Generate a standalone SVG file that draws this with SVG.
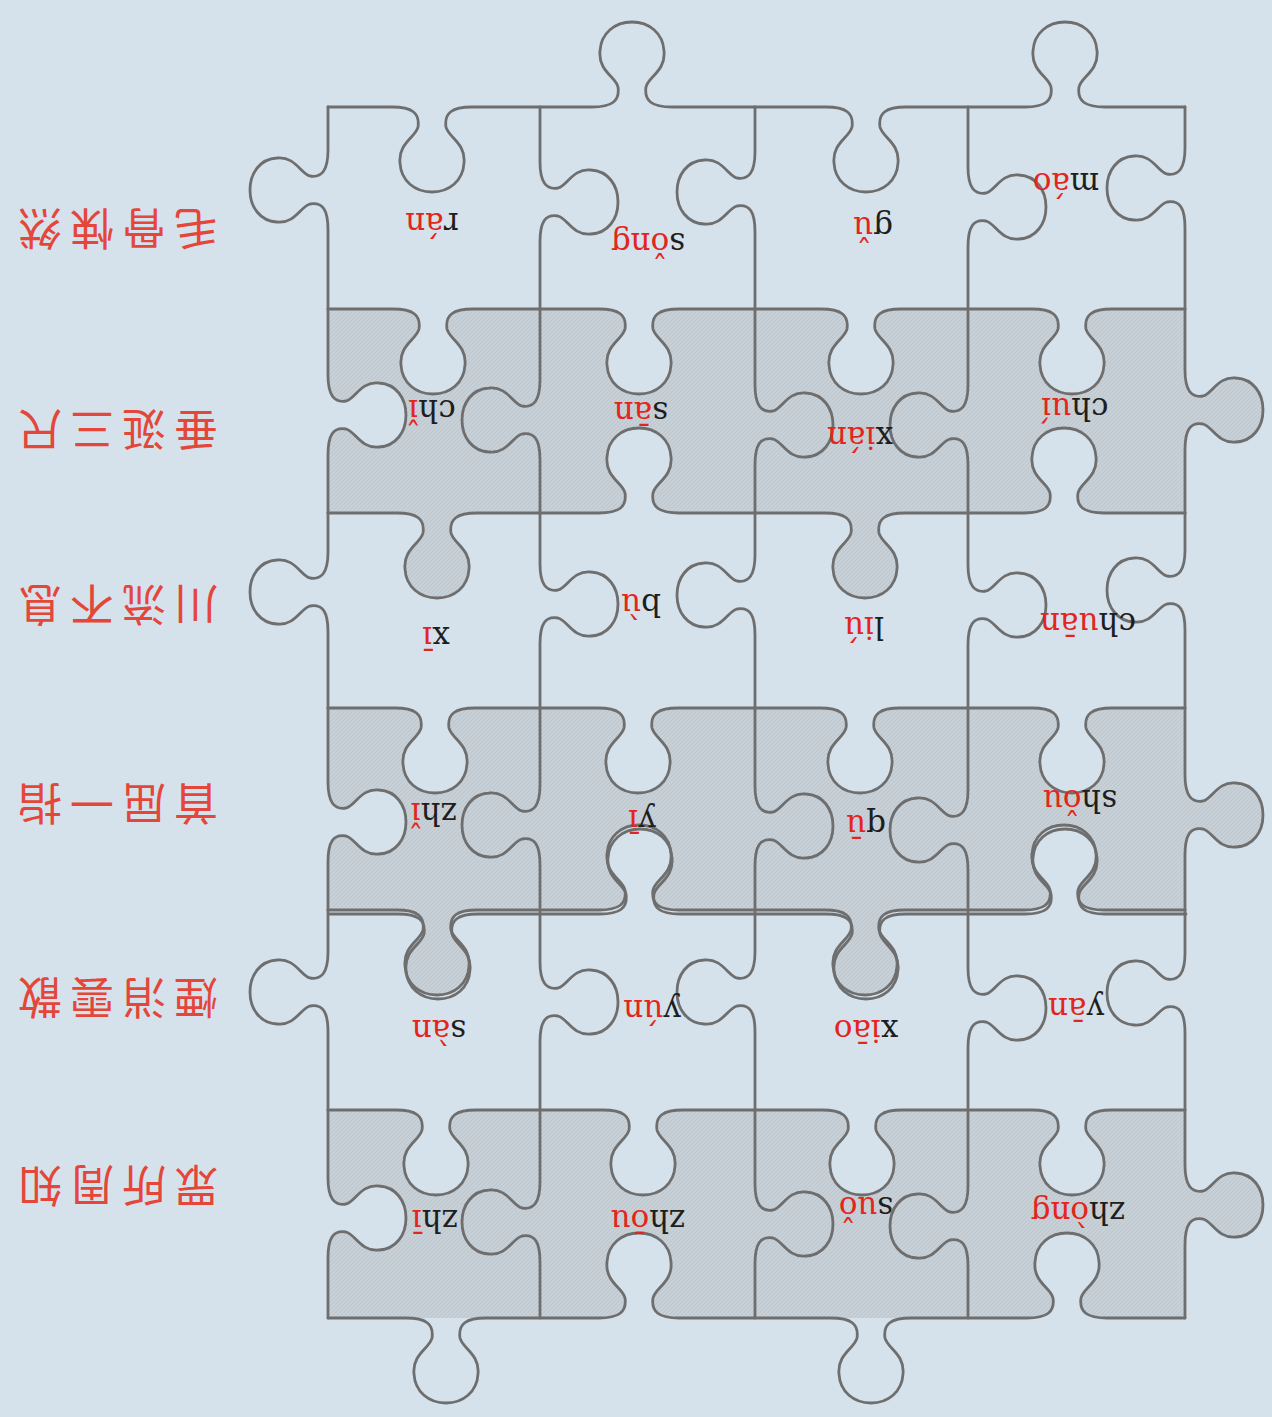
<svg xmlns="http://www.w3.org/2000/svg" width="1272" height="1417" viewBox="0 0 1272 1417">
<defs>
<pattern id="hatch" width="4" height="4" patternUnits="userSpaceOnUse">
<rect width="4" height="4" fill="#c9d2d9"/>
<path d="M0,4 L4,0 M-1,1 L1,-1 M3,5 L5,3" stroke="#b6bfc7" stroke-width="0.7"/>
<path d="M0,0 L4,4" stroke="#bec7ce" stroke-width="0.5"/>
</pattern>
<clipPath id="grid"><rect x="0" y="0" width="1272" height="1318"/></clipPath>
<style>
.edge{fill:none;stroke:#6e6e6e;stroke-width:2.8;stroke-linejoin:round;stroke-linecap:round}
.py{font-family:"DejaVu Serif","Liberation Serif",serif;font-size:31px;text-anchor:middle}
.k{fill:#1e1e1e}
.r{fill:#e3261c}
.cn{font-family:"Noto Sans CJK SC","Noto Sans CJK TC",sans-serif;font-size:44px;fill:#e4463a;text-anchor:middle}
</style>
</defs>
<rect width="1272" height="1417" fill="#d5e2ec"/>

<g id="shading" fill="url(#hatch)" clip-path="url(#grid)">
<path d="M328,309 L393,309 c20,0 28,6 26,20 c-2,10 -20,16 -18,36 c1,18 15,29 32,29 c17,0 31,-11 32,-29 c2,-20 -16,-26 -18,-36 c-2,-14 6,-20 26,-20 L599,309 c20,0 28,6 26,20 c-2,10 -20,16 -18,36 c1,18 15,29 32,29 c17,0 31,-11 32,-29 c2,-20 -16,-26 -18,-36 c-2,-14 6,-20 26,-20 L821,309 c20,0 28,6 26,20 c-2,10 -20,16 -18,36 c1,18 15,29 32,29 c17,0 31,-11 32,-29 c2,-20 -16,-26 -18,-36 c-2,-14 6,-20 26,-20 L1032,309 c20,0 28,6 26,20 c-2,10 -20,16 -18,36 c1,18 15,29 32,29 c17,0 31,-11 32,-29 c2,-20 -16,-26 -18,-36 c-2,-14 6,-20 26,-20 L1185,309 L1185,370 c0,20 6,28 18,26 c9,-2 15,-20 33,-18 c17,1 27,15 27,32 c0,17 -10,31 -27,32 c-18,2 -24,-16 -33,-18 c-13,-2 -18,6 -18,26 L1185,513 L1104,513 c-20,0 -28,-6 -26,-20 c2,-10 20,-16 18,-36 c-1,-18 -15,-29 -32,-29 c-17,0 -31,11 -32,29 c-2,20 16,26 18,36 c2,14 -6,20 -26,20 L905,513 c-20,0 -28,6 -26,20 c2,10 20,16 18,36 c-1,18 -15,29 -32,29 c-17,0 -31,-11 -32,-29 c-2,-20 16,-26 18,-36 c2,-14 -6,-20 -26,-20 L679,513 c-20,0 -28,-6 -26,-20 c2,-10 20,-16 18,-36 c-1,-18 -15,-29 -32,-29 c-17,0 -31,11 -32,29 c-2,20 16,26 18,36 c2,14 -6,20 -26,20 L477,513 c-20,0 -28,6 -26,20 c2,10 20,16 18,36 c-1,18 -15,29 -32,29 c-17,0 -31,-11 -32,-29 c-2,-20 16,-26 18,-36 c2,-14 -6,-20 -26,-20 L328,513 L328,455 c0,-20 6,-28 18,-26 c9,2 15,20 33,18 c17,-1 27,-15 27,-32 c0,-17 -10,-31 -27,-32 c-18,-2 -24,16 -33,18 c-13,2 -18,-6 -18,-26 L328,309 Z"/>
<path d="M328,708 L395,708 c20,0 28,6 26,20 c-2,10 -20,16 -18,36 c1,18 15,29 32,29 c17,0 31,-11 32,-29 c2,-20 -16,-26 -18,-36 c-2,-14 6,-20 26,-20 L598,708 c20,0 28,6 26,20 c-2,10 -20,16 -18,36 c1,18 15,29 32,29 c17,0 31,-11 32,-29 c2,-20 -16,-26 -18,-36 c-2,-14 6,-20 26,-20 L820,708 c20,0 28,6 26,20 c-2,10 -20,16 -18,36 c1,18 15,29 32,29 c17,0 31,-11 32,-29 c2,-20 -16,-26 -18,-36 c-2,-14 6,-20 26,-20 L1032,708 c20,0 28,6 26,20 c-2,10 -20,16 -18,36 c1,18 15,29 32,29 c17,0 31,-11 32,-29 c2,-20 -16,-26 -18,-36 c-2,-14 6,-20 26,-20 L1185,708 L1185,775 c0,20 6,28 18,26 c9,-2 15,-20 33,-18 c17,1 27,15 27,32 c0,17 -10,31 -27,32 c-18,2 -24,-16 -33,-18 c-13,-2 -18,6 -18,26 L1185,910 L1104,910 c-20,0 -28,-6 -26,-20 c2,-10 20,-16 18,-36 c-1,-18 -15,-29 -32,-29 c-17,0 -31,11 -32,29 c-2,20 16,26 18,36 c2,14 -6,20 -26,20 L905,910 c-20,0 -28,6 -26,20 c2,10 20,16 18,36 c-1,18 -15,29 -32,29 c-17,0 -31,-11 -32,-29 c-2,-20 16,-26 18,-36 c2,-14 -6,-20 -26,-20 L679,910 c-20,0 -28,-6 -26,-20 c2,-10 20,-16 18,-36 c-1,-18 -15,-29 -32,-29 c-17,0 -31,11 -32,29 c-2,20 16,26 18,36 c2,14 -6,20 -26,20 L477,910 c-20,0 -28,6 -26,20 c2,10 20,16 18,36 c-1,18 -15,29 -32,29 c-17,0 -31,-11 -32,-29 c-2,-20 16,-26 18,-36 c2,-14 -6,-20 -26,-20 L328,910 L328,862 c0,-20 6,-28 18,-26 c9,2 15,20 33,18 c17,-1 27,-15 27,-32 c0,-17 -10,-31 -27,-32 c-18,-2 -24,16 -33,18 c-13,2 -18,-6 -18,-26 L328,708 Z"/>
<path d="M328,1110 L396,1110 c20,0 28,6 26,20 c-2,10 -20,16 -18,36 c1,18 15,29 32,29 c17,0 31,-11 32,-29 c2,-20 -16,-26 -18,-36 c-2,-14 6,-20 26,-20 L603,1110 c20,0 28,6 26,20 c-2,10 -20,16 -18,36 c1,18 15,29 32,29 c17,0 31,-11 32,-29 c2,-20 -16,-26 -18,-36 c-2,-14 6,-20 26,-20 L822,1110 c20,0 28,6 26,20 c-2,10 -20,16 -18,36 c1,18 15,29 32,29 c17,0 31,-11 32,-29 c2,-20 -16,-26 -18,-36 c-2,-14 6,-20 26,-20 L1032,1110 c20,0 28,6 26,20 c-2,10 -20,16 -18,36 c1,18 15,29 32,29 c17,0 31,-11 32,-29 c2,-20 -16,-26 -18,-36 c-2,-14 6,-20 26,-20 L1185,1110 L1185,1165 c0,20 6,28 18,26 c9,-2 15,-20 33,-18 c17,1 27,15 27,32 c0,17 -10,31 -27,32 c-18,2 -24,-16 -33,-18 c-13,-2 -18,6 -18,26 L1185,1318 L1107,1318 c-20,0 -28,-6 -26,-20 c2,-10 20,-16 18,-36 c-1,-18 -15,-29 -32,-29 c-17,0 -31,11 -32,29 c-2,20 16,26 18,36 c2,14 -6,20 -26,20 L911,1318 c-20,0 -28,6 -26,20 c2,10 20,16 18,36 c-1,18 -15,29 -32,29 c-17,0 -31,-11 -32,-29 c-2,-20 16,-26 18,-36 c2,-14 -6,-20 -26,-20 L679,1318 c-20,0 -28,-6 -26,-20 c2,-10 20,-16 18,-36 c-1,-18 -15,-29 -32,-29 c-17,0 -31,11 -32,29 c-2,20 16,26 18,36 c2,14 -6,20 -26,20 L486,1318 c-20,0 -28,6 -26,20 c2,10 20,16 18,36 c-1,18 -15,29 -32,29 c-17,0 -31,-11 -32,-29 c-2,-20 16,-26 18,-36 c2,-14 -6,-20 -26,-20 L328,1318 L328,1258 c0,-20 6,-28 18,-26 c9,2 15,20 33,18 c17,-1 27,-15 27,-32 c0,-17 -10,-31 -27,-32 c-18,-2 -24,16 -33,18 c-13,2 -18,-6 -18,-26 L328,1110 Z"/>
</g>

<g id="connectors" class="edge">
<path d="M328,107 L392,107 c20,0 28,6 26,20 c-2,10 -20,16 -18,36 c1,18 15,29 32,29 c17,0 31,-11 32,-29 c2,-20 -16,-26 -18,-36 c-2,-14 6,-20 26,-20 L592,107 c20,0 28,-6 26,-20 c-2,-10 -20,-16 -18,-36 c1,-18 15,-29 32,-29 c17,0 31,11 32,29 c2,20 -16,26 -18,36 c-2,14 6,20 26,20 L826,107 c20,0 28,6 26,20 c-2,10 -20,16 -18,36 c1,18 15,29 32,29 c17,0 31,-11 32,-29 c2,-20 -16,-26 -18,-36 c-2,-14 6,-20 26,-20 L1025,107 c20,0 28,-6 26,-20 c-2,-10 -20,-16 -18,-36 c1,-18 15,-29 32,-29 c17,0 31,11 32,29 c2,20 -16,26 -18,36 c-2,14 6,20 26,20 L1185,107"/>
<path d="M328,309 L393,309 c20,0 28,6 26,20 c-2,10 -20,16 -18,36 c1,18 15,29 32,29 c17,0 31,-11 32,-29 c2,-20 -16,-26 -18,-36 c-2,-14 6,-20 26,-20 L599,309 c20,0 28,6 26,20 c-2,10 -20,16 -18,36 c1,18 15,29 32,29 c17,0 31,-11 32,-29 c2,-20 -16,-26 -18,-36 c-2,-14 6,-20 26,-20 L821,309 c20,0 28,6 26,20 c-2,10 -20,16 -18,36 c1,18 15,29 32,29 c17,0 31,-11 32,-29 c2,-20 -16,-26 -18,-36 c-2,-14 6,-20 26,-20 L1032,309 c20,0 28,6 26,20 c-2,10 -20,16 -18,36 c1,18 15,29 32,29 c17,0 31,-11 32,-29 c2,-20 -16,-26 -18,-36 c-2,-14 6,-20 26,-20 L1185,309"/>
<path d="M328,513 L397,513 c20,0 28,6 26,20 c-2,10 -20,16 -18,36 c1,18 15,29 32,29 c17,0 31,-11 32,-29 c2,-20 -16,-26 -18,-36 c-2,-14 6,-20 26,-20 L599,513 c20,0 28,-6 26,-20 c-2,-10 -20,-16 -18,-36 c1,-18 15,-29 32,-29 c17,0 31,11 32,29 c2,20 -16,26 -18,36 c-2,14 6,20 26,20 L825,513 c20,0 28,6 26,20 c-2,10 -20,16 -18,36 c1,18 15,29 32,29 c17,0 31,-11 32,-29 c2,-20 -16,-26 -18,-36 c-2,-14 6,-20 26,-20 L1024,513 c20,0 28,-6 26,-20 c-2,-10 -20,-16 -18,-36 c1,-18 15,-29 32,-29 c17,0 31,11 32,29 c2,20 -16,26 -18,36 c-2,14 6,20 26,20 L1185,513"/>
<path d="M328,708 L395,708 c20,0 28,6 26,20 c-2,10 -20,16 -18,36 c1,18 15,29 32,29 c17,0 31,-11 32,-29 c2,-20 -16,-26 -18,-36 c-2,-14 6,-20 26,-20 L598,708 c20,0 28,6 26,20 c-2,10 -20,16 -18,36 c1,18 15,29 32,29 c17,0 31,-11 32,-29 c2,-20 -16,-26 -18,-36 c-2,-14 6,-20 26,-20 L820,708 c20,0 28,6 26,20 c-2,10 -20,16 -18,36 c1,18 15,29 32,29 c17,0 31,-11 32,-29 c2,-20 -16,-26 -18,-36 c-2,-14 6,-20 26,-20 L1032,708 c20,0 28,6 26,20 c-2,10 -20,16 -18,36 c1,18 15,29 32,29 c17,0 31,-11 32,-29 c2,-20 -16,-26 -18,-36 c-2,-14 6,-20 26,-20 L1185,708"/>
<path id="y4" d="M328,910 L397,910 c20,0 28,6 26,20 c-2,10 -20,16 -18,36 c1,18 15,29 32,29 c17,0 31,-11 32,-29 c2,-20 -16,-26 -18,-36 c-2,-14 6,-20 26,-20 L599,910 c20,0 28,-6 26,-20 c-2,-10 -20,-16 -18,-36 c1,-18 15,-29 32,-29 c17,0 31,11 32,29 c2,20 -16,26 -18,36 c-2,14 6,20 26,20 L825,910 c20,0 28,6 26,20 c-2,10 -20,16 -18,36 c1,18 15,29 32,29 c17,0 31,-11 32,-29 c2,-20 -16,-26 -18,-36 c-2,-14 6,-20 26,-20 L1024,910 c20,0 28,-6 26,-20 c-2,-10 -20,-16 -18,-36 c1,-18 15,-29 32,-29 c17,0 31,11 32,29 c2,20 -16,26 -18,36 c-2,14 6,20 26,20 L1185,910"/>
<use href="#y4" transform="translate(1,4)"/>
<path d="M328,1110 L396,1110 c20,0 28,6 26,20 c-2,10 -20,16 -18,36 c1,18 15,29 32,29 c17,0 31,-11 32,-29 c2,-20 -16,-26 -18,-36 c-2,-14 6,-20 26,-20 L603,1110 c20,0 28,6 26,20 c-2,10 -20,16 -18,36 c1,18 15,29 32,29 c17,0 31,-11 32,-29 c2,-20 -16,-26 -18,-36 c-2,-14 6,-20 26,-20 L822,1110 c20,0 28,6 26,20 c-2,10 -20,16 -18,36 c1,18 15,29 32,29 c17,0 31,-11 32,-29 c2,-20 -16,-26 -18,-36 c-2,-14 6,-20 26,-20 L1032,1110 c20,0 28,6 26,20 c-2,10 -20,16 -18,36 c1,18 15,29 32,29 c17,0 31,-11 32,-29 c2,-20 -16,-26 -18,-36 c-2,-14 6,-20 26,-20 L1185,1110"/>
<path d="M328,1318 L406,1318 c20,0 28,6 26,20 c-2,10 -20,16 -18,36 c1,18 15,29 32,29 c17,0 31,-11 32,-29 c2,-20 -16,-26 -18,-36 c-2,-14 6,-20 26,-20 L599,1318 c20,0 28,-6 26,-20 c-2,-10 -20,-16 -18,-36 c1,-18 15,-29 32,-29 c17,0 31,11 32,29 c2,20 -16,26 -18,36 c-2,14 6,20 26,20 L831,1318 c20,0 28,6 26,20 c-2,10 -20,16 -18,36 c1,18 15,29 32,29 c17,0 31,-11 32,-29 c2,-20 -16,-26 -18,-36 c-2,-14 6,-20 26,-20 L1027,1318 c20,0 28,-6 26,-20 c-2,-10 -20,-16 -18,-36 c1,-18 15,-29 32,-29 c17,0 31,11 32,29 c2,20 -16,26 -18,36 c-2,14 6,20 26,20 L1185,1318"/>

<path d="M328,107 L328,150 c0,20 -6,28 -18,26 c-9,-2 -15,-20 -33,-18 c-17,1 -27,15 -27,32 c0,17 10,31 27,32 c18,2 24,-16 33,-18 c13,-2 18,6 18,26 L328,309"/>
<path d="M540,107 L540,162 c0,20 6,28 18,26 c9,-2 15,-20 33,-18 c17,1 27,15 27,32 c0,17 -10,31 -27,32 c-18,2 -24,-16 -33,-18 c-13,-2 -18,6 -18,26 L540,309"/>
<path d="M755,107 L755,152 c0,20 -6,28 -18,26 c-9,-2 -15,-20 -33,-18 c-17,1 -27,15 -27,32 c0,17 10,31 27,32 c18,2 24,-16 33,-18 c13,-2 18,6 18,26 L755,309"/>
<path d="M968,107 L968,167 c0,20 6,28 18,26 c9,-2 15,-20 33,-18 c17,1 27,15 27,32 c0,17 -10,31 -27,32 c-18,2 -24,-16 -33,-18 c-13,-2 -18,6 -18,26 L968,309"/>
<path d="M1185,107 L1185,148 c0,20 -6,28 -18,26 c-9,-2 -15,-20 -33,-18 c-17,1 -27,15 -27,32 c0,17 10,31 27,32 c18,2 24,-16 33,-18 c13,-2 18,6 18,26 L1185,309"/>

<path d="M328,309 L328,375 c0,20 6,28 18,26 c9,-2 15,-20 33,-18 c17,1 27,15 27,32 c0,17 -10,31 -27,32 c-18,2 -24,-16 -33,-18 c-13,-2 -18,6 -18,26 L328,513"/>
<path d="M540,309 L540,380 c0,20 -6,28 -18,26 c-9,-2 -15,-20 -33,-18 c-17,1 -27,15 -27,32 c0,17 10,31 27,32 c18,2 24,-16 33,-18 c13,-2 18,6 18,26 L540,513"/>
<path d="M755,309 L755,385 c0,20 6,28 18,26 c9,-2 15,-20 33,-18 c17,1 27,15 27,32 c0,17 -10,31 -27,32 c-18,2 -24,-16 -33,-18 c-13,-2 -18,6 -18,26 L755,513"/>
<path d="M968,309 L968,385 c0,20 -6,28 -18,26 c-9,-2 -15,-20 -33,-18 c-17,1 -27,15 -27,32 c0,17 10,31 27,32 c18,2 24,-16 33,-18 c13,-2 18,6 18,26 L968,513"/>
<path d="M1185,309 L1185,370 c0,20 6,28 18,26 c9,-2 15,-20 33,-18 c17,1 27,15 27,32 c0,17 -10,31 -27,32 c-18,2 -24,-16 -33,-18 c-13,-2 -18,6 -18,26 L1185,513"/>

<path d="M328,513 L328,552 c0,20 -6,28 -18,26 c-9,-2 -15,-20 -33,-18 c-17,1 -27,15 -27,32 c0,17 10,31 27,32 c18,2 24,-16 33,-18 c13,-2 18,6 18,26 L328,708"/>
<path d="M540,513 L540,564 c0,20 6,28 18,26 c9,-2 15,-20 33,-18 c17,1 27,15 27,32 c0,17 -10,31 -27,32 c-18,2 -24,-16 -33,-18 c-13,-2 -18,6 -18,26 L540,708"/>
<path d="M755,513 L755,555 c0,20 -6,28 -18,26 c-9,-2 -15,-20 -33,-18 c-17,1 -27,15 -27,32 c0,17 10,31 27,32 c18,2 24,-16 33,-18 c13,-2 18,6 18,26 L755,708"/>
<path d="M968,513 L968,565 c0,20 6,28 18,26 c9,-2 15,-20 33,-18 c17,1 27,15 27,32 c0,17 -10,31 -27,32 c-18,2 -24,-16 -33,-18 c-13,-2 -18,6 -18,26 L968,708"/>
<path d="M1185,513 L1185,550 c0,20 -6,28 -18,26 c-9,-2 -15,-20 -33,-18 c-17,1 -27,15 -27,32 c0,17 10,31 27,32 c18,2 24,-16 33,-18 c13,-2 18,6 18,26 L1185,708"/>

<path d="M328,708 L328,782 c0,20 6,28 18,26 c9,-2 15,-20 33,-18 c17,1 27,15 27,32 c0,17 -10,31 -27,32 c-18,2 -24,-16 -33,-18 c-13,-2 -18,6 -18,26 L328,910"/>
<path d="M540,708 L540,785 c0,20 -6,28 -18,26 c-9,-2 -15,-20 -33,-18 c-17,1 -27,15 -27,32 c0,17 10,31 27,32 c18,2 24,-16 33,-18 c13,-2 18,6 18,26 L540,910"/>
<path d="M755,708 L755,786 c0,20 6,28 18,26 c9,-2 15,-20 33,-18 c17,1 27,15 27,32 c0,17 -10,31 -27,32 c-18,2 -24,-16 -33,-18 c-13,-2 -18,6 -18,26 L755,910"/>
<path d="M968,708 L968,790 c0,20 -6,28 -18,26 c-9,-2 -15,-20 -33,-18 c-17,1 -27,15 -27,32 c0,17 10,31 27,32 c18,2 24,-16 33,-18 c13,-2 18,6 18,26 L968,910"/>
<path d="M1185,708 L1185,775 c0,20 6,28 18,26 c9,-2 15,-20 33,-18 c17,1 27,15 27,32 c0,17 -10,31 -27,32 c-18,2 -24,-16 -33,-18 c-13,-2 -18,6 -18,26 L1185,910"/>

<path d="M328,910 L328,952 c0,20 -6,28 -18,26 c-9,-2 -15,-20 -33,-18 c-17,1 -27,15 -27,32 c0,17 10,31 27,32 c18,2 24,-16 33,-18 c13,-2 18,6 18,26 L328,1110"/>
<path d="M540,910 L540,962 c0,20 6,28 18,26 c9,-2 15,-20 33,-18 c17,1 27,15 27,32 c0,17 -10,31 -27,32 c-18,2 -24,-16 -33,-18 c-13,-2 -18,6 -18,26 L540,1110"/>
<path d="M755,910 L755,952 c0,20 -6,28 -18,26 c-9,-2 -15,-20 -33,-18 c-17,1 -27,15 -27,32 c0,17 10,31 27,32 c18,2 24,-16 33,-18 c13,-2 18,6 18,26 L755,1110"/>
<path d="M968,910 L968,968 c0,20 6,28 18,26 c9,-2 15,-20 33,-18 c17,1 27,15 27,32 c0,17 -10,31 -27,32 c-18,2 -24,-16 -33,-18 c-13,-2 -18,6 -18,26 L968,1110"/>
<path d="M1185,910 L1185,953 c0,20 -6,28 -18,26 c-9,-2 -15,-20 -33,-18 c-17,1 -27,15 -27,32 c0,17 10,31 27,32 c18,2 24,-16 33,-18 c13,-2 18,6 18,26 L1185,1110"/>

<path d="M328,1110 L328,1178 c0,20 6,28 18,26 c9,-2 15,-20 33,-18 c17,1 27,15 27,32 c0,17 -10,31 -27,32 c-18,2 -24,-16 -33,-18 c-13,-2 -18,6 -18,26 L328,1318"/>
<path d="M540,1110 L540,1182 c0,20 -6,28 -18,26 c-9,-2 -15,-20 -33,-18 c-17,1 -27,15 -27,32 c0,17 10,31 27,32 c18,2 24,-16 33,-18 c13,-2 18,6 18,26 L540,1318"/>
<path d="M755,1110 L755,1184 c0,20 6,28 18,26 c9,-2 15,-20 33,-18 c17,1 27,15 27,32 c0,17 -10,31 -27,32 c-18,2 -24,-16 -33,-18 c-13,-2 -18,6 -18,26 L755,1318"/>
<path d="M968,1110 L968,1186 c0,20 -6,28 -18,26 c-9,-2 -15,-20 -33,-18 c-17,1 -27,15 -27,32 c0,17 10,31 27,32 c18,2 24,-16 33,-18 c13,-2 18,6 18,26 L968,1318"/>
<path d="M1185,1110 L1185,1165 c0,20 6,28 18,26 c9,-2 15,-20 33,-18 c17,1 27,15 27,32 c0,17 -10,31 -27,32 c-18,2 -24,-16 -33,-18 c-13,-2 -18,6 -18,26 L1185,1318"/>
</g>

<g id="row1" class="py">
<text x="432" y="213" transform="rotate(180 432 213)"><tspan class="k">r</tspan><tspan class="r">án</tspan></text>
<text x="648" y="233" transform="rotate(180 648 233)"><tspan class="k">s</tspan><tspan class="r">ǒng</tspan></text>
<text x="873" y="217" transform="rotate(180 873 217)"><tspan class="k">g</tspan><tspan class="r">ǔ</tspan></text>
<text x="1066" y="173" transform="rotate(180 1066 173)"><tspan class="k">m</tspan><tspan class="r">áo</tspan></text>
</g>
<g id="row2" class="py">
<text x="432" y="400" transform="rotate(180 432 400)"><tspan class="k">ch</tspan><tspan class="r">ǐ</tspan></text>
<text x="641" y="402" transform="rotate(180 641 402)"><tspan class="k">s</tspan><tspan class="r">ān</tspan></text>
<text x="860" y="427" transform="rotate(180 860 427)"><tspan class="k">x</tspan><tspan class="r">ián</tspan></text>
<text x="1075" y="398" transform="rotate(180 1075 398)"><tspan class="k">ch</tspan><tspan class="r">uí</tspan></text>
</g>
<g id="row3" class="py">
<text x="436" y="627" transform="rotate(180 436 627)"><tspan class="k">x</tspan><tspan class="r">ī</tspan></text>
<text x="641" y="594" transform="rotate(180 641 594)"><tspan class="k">b</tspan><tspan class="r">ù</tspan></text>
<text x="864" y="617" transform="rotate(180 864 617)"><tspan class="k">l</tspan><tspan class="r">iú</tspan></text>
<text x="1088" y="613" transform="rotate(180 1088 613)"><tspan class="k">ch</tspan><tspan class="r">uān</tspan></text>
</g>
<g id="row4" class="py">
<text x="434" y="803" transform="rotate(180 434 803)"><tspan class="k">zh</tspan><tspan class="r">ǐ</tspan></text>
<text x="642" y="810" transform="rotate(180 642 810)"><tspan class="k">y</tspan><tspan class="r">ī</tspan></text>
<text x="866" y="815" transform="rotate(180 866 815)"><tspan class="k">q</tspan><tspan class="r">ū</tspan></text>
<text x="1080" y="790" transform="rotate(180 1080 790)"><tspan class="k">sh</tspan><tspan class="r">ǒu</tspan></text>
</g>
<g id="row5" class="py">
<text x="439" y="1020" transform="rotate(180 439 1020)"><tspan class="k">s</tspan><tspan class="r">àn</tspan></text>
<text x="652" y="1000" transform="rotate(180 652 1000)"><tspan class="k">y</tspan><tspan class="r">ún</tspan></text>
<text x="866" y="1020" transform="rotate(180 866 1020)"><tspan class="k">x</tspan><tspan class="r">iāo</tspan></text>
<text x="1076" y="998" transform="rotate(180 1076 998)"><tspan class="k">y</tspan><tspan class="r">ān</tspan></text>
</g>
<g id="row6" class="py">
<text x="435" y="1210" transform="rotate(180 435 1210)"><tspan class="k">zh</tspan><tspan class="r">ī</tspan></text>
<text x="648" y="1210" transform="rotate(180 648 1210)"><tspan class="k">zh</tspan><tspan class="r">ōu</tspan></text>
<text x="866" y="1197" transform="rotate(180 866 1197)"><tspan class="k">s</tspan><tspan class="r">uǒ</tspan></text>
<text x="1078" y="1202" transform="rotate(180 1078 1202)"><tspan class="k">zh</tspan><tspan class="r">òng</tspan></text>
</g>

<g id="idioms" class="cn">
<text x="118" y="212" transform="rotate(180 118 212)" textLength="200" lengthAdjust="spacing">毛骨悚然</text>
<text x="118" y="413" transform="rotate(180 118 413)" textLength="200" lengthAdjust="spacing">垂涎三尺</text>
<text x="118" y="588" transform="rotate(180 118 588)" textLength="200" lengthAdjust="spacing">川流不息</text>
<text x="118" y="787" transform="rotate(180 118 787)" textLength="200" lengthAdjust="spacing">首屈一指</text>
<text x="118" y="981" transform="rotate(180 118 981)" textLength="200" lengthAdjust="spacing">煙消雲散</text>
<text x="118" y="1169" transform="rotate(180 118 1169)" textLength="200" lengthAdjust="spacing">眾所周知</text>
</g>
</svg>
